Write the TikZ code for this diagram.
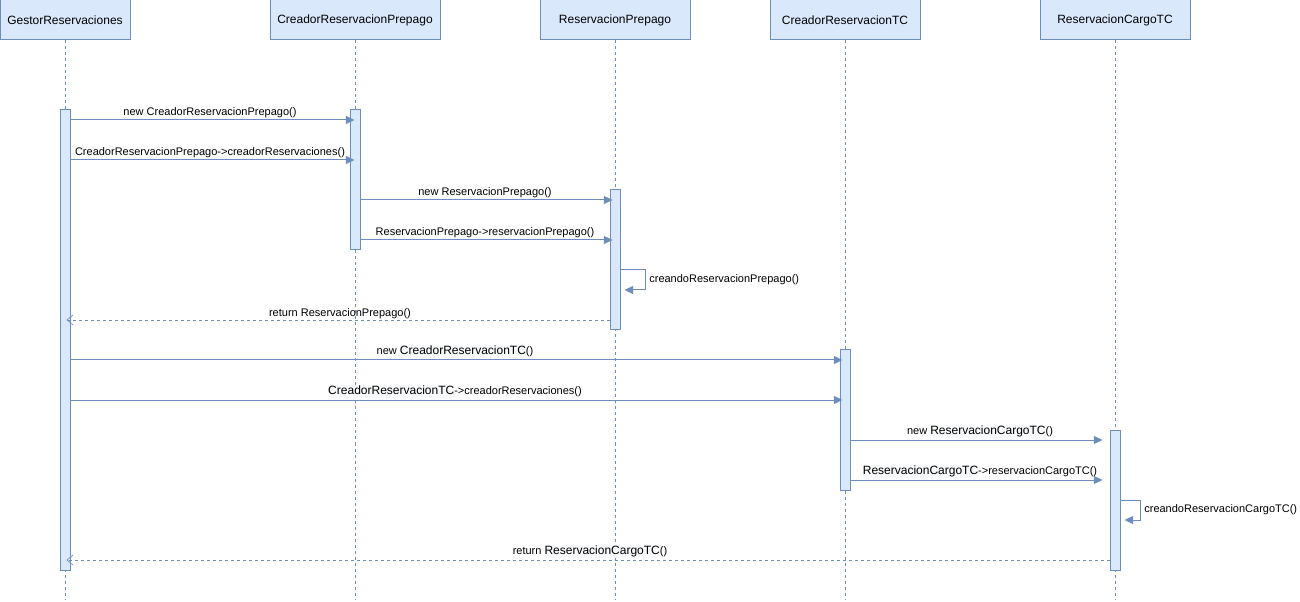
\documentclass[tikz,border=0pt]{standalone}
\usepackage{fontspec}
\setmainfont{Liberation Sans}
\usetikzlibrary{arrows.meta}

\definecolor{lineblue}{HTML}{6C8EBF}
\definecolor{fillblue}{HTML}{DAE8FC}
\definecolor{pastebg}{HTML}{F8F9FA}

% text pasted in a larger size
\newcommand{\pasted}[1]{{\setlength{\fboxsep}{0pt}\colorbox{pastebg}{\fontsize{9}{10}\selectfont\strut #1}}}

\tikzset{
  lifebox/.style={draw=lineblue, fill=fillblue, line width=0.75pt, minimum height=30pt, inner sep=0pt, font=\fontsize{9}{11}\selectfont},
  lifeline/.style={draw=lineblue, line width=0.5pt, dash pattern=on 2.25pt off 2.25pt},
  actbar/.style={draw=lineblue, fill=fillblue, line width=0.75pt, minimum width=7.5pt, inner sep=0pt},
  msg/.style={draw=lineblue, line width=0.75pt, -{Triangle[length=6.5pt,width=6pt]}},
  ret/.style={draw=lineblue, line width=0.5pt, dash pattern=on 2.25pt off 2.25pt, -{Straight Barb[length=4.5pt,width=7.5pt]}},
  lbl/.style={font=\fontsize{8.25}{10}\selectfont, inner sep=1pt},
  msglbl/.style={lbl, above, midway},
}

\begin{document}
\begin{tikzpicture}[x=0.75pt, y=-0.75pt]
    \useasboundingbox (0,0) rectangle (1300,602);

    % Participants
    \node[lifebox, minimum width=97.5pt] (gestor) at (65,20) {GestorReservaciones};
    \node[lifebox, minimum width=127.5pt] (crp) at (355,20) {CreadorReservacionPrepago};
    \node[lifebox, minimum width=112.5pt] (rp) at (615,20) {ReservacionPrepago};
    \node[lifebox, minimum width=112.5pt] (crtc) at (845,20) {CreadorReservacionTC};
    \node[lifebox, minimum width=112.5pt] (rctc) at (1115,20) {ReservacionCargoTC};

    % Lifelines
    \coordinate (bot) at (0,600);
    \foreach \p in {gestor,crp,rp,crtc,rctc}
        \draw[lifeline] (\p.south) -- (\p.south |- bot);

    % Activations
    \node[actbar, minimum height=345pt] (aGestor) at (65,340) {};
    \node[actbar, minimum height=105pt] (aCrp) at (355,180) {};
    \node[actbar, minimum height=105pt] (aRp) at (615,260) {};
    \node[actbar, minimum height=105pt] (aCrtc) at (845,420) {};
    \node[actbar, minimum height=105pt] (aRctc) at (1115,500) {};

    % Rows
    \coordinate (m1) at (0,120); \coordinate (m2) at (0,160);
    \coordinate (m3) at (0,200); \coordinate (m4) at (0,240);
    \coordinate (s1) at (0,270); \coordinate (m5) at (0,320);
    \coordinate (m6) at (0,360); \coordinate (m7) at (0,400);
    \coordinate (m8) at (0,440); \coordinate (m9) at (0,480);
    \coordinate (s2) at (0,500); \coordinate (m10) at (0,560);

    % Prepago
    \draw[msg, shorten >=-3.75pt] (aGestor.east |- m1) -- (aCrp.west |- m1)
        node[msglbl] {new CreadorReservacionPrepago()};
    \draw[msg, shorten >=-3.75pt] (aGestor.east |- m2) -- (aCrp.west |- m2)
        node[msglbl] {CreadorReservacionPrepago->creadorReservaciones()};
    \draw[msg, shorten >=-2.25pt] (aCrp.east |- m3) -- (aRp.west |- m3)
        node[msglbl] {new ReservacionPrepago()};
    \draw[msg, shorten >=-2.25pt] (aCrp.east |- m4) -- (aRp.west |- m4)
        node[msglbl] {ReservacionPrepago->reservacionPrepago()};
    \draw[msg] (aRp.east |- s1) -- ++(25,0)
        -- node[lbl, right, xshift=1.5pt] {creandoReservacionPrepago()} ++(0,20) -- ++(-21,0);
    \draw[ret, shorten >=-3pt] (aRp.west |- m5) -- (aGestor.east |- m5)
        node[msglbl] {return ReservacionPrepago()};

    % Cargo TC
    \draw[msg, shorten >=-2.25pt] (aGestor.east |- m6) -- (aCrtc.west |- m6)
        node[msglbl] {new \pasted{CreadorReservacionTC}()};
    \draw[msg, shorten >=-2.25pt] (aGestor.east |- m7) -- (aCrtc.west |- m7)
        node[msglbl] {\pasted{CreadorReservacionTC}->creadorReservaciones()};
    \draw[msg, shorten >=5.25pt] (aCrtc.east |- m8) -- (aRctc.west |- m8)
        node[msglbl] {new \pasted{ReservacionCargoTC}()};
    \draw[msg, shorten >=5.25pt] (aCrtc.east |- m9) -- (aRctc.west |- m9)
        node[msglbl] {\pasted{ReservacionCargoTC}->reservacionCargoTC()};
    \draw[msg] (aRctc.east |- s2) -- ++(20,0)
        -- node[lbl, right, xshift=1.5pt] {creandoReservacionCargoTC()} ++(0,20) -- ++(-16,0);
    \draw[ret, shorten >=-3pt] (aRctc.west |- m10) -- (aGestor.east |- m10)
        node[msglbl] {return \pasted{ReservacionCargoTC}()};
\end{tikzpicture}
\end{document}
